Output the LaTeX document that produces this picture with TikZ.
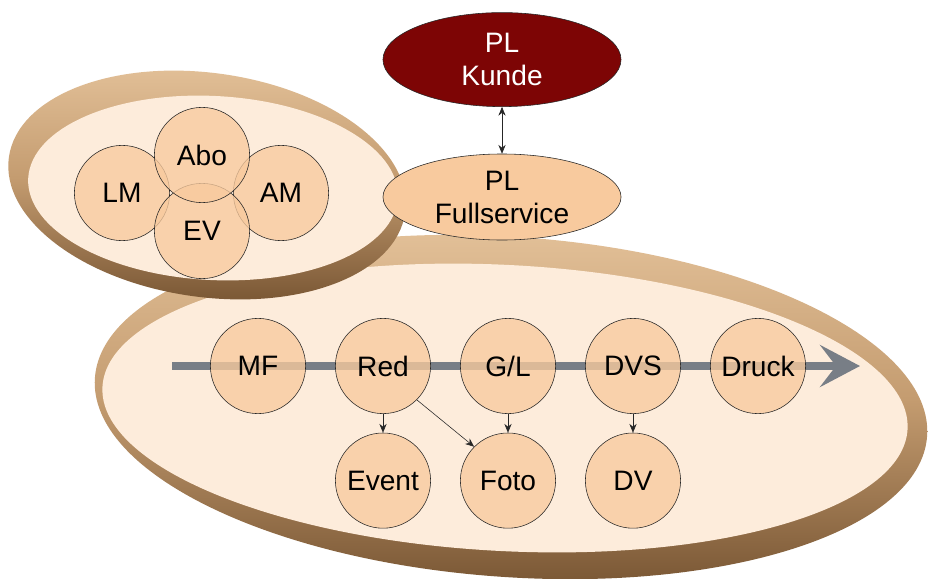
\documentclass[tikz,border=0pt]{standalone}
\usepackage{fontspec}
\setmainfont{Liberation Sans}
\usetikzlibrary{positioning,shapes.geometric,arrows.meta}
\definecolor{ringdark}{RGB}{125,90,55}
\definecolor{ringmid}{RGB}{196,156,112}
\definecolor{ringlight}{RGB}{228,194,154}
\definecolor{cream}{RGB}{253,236,219}
\definecolor{peach}{RGB}{248,202,158}
\definecolor{kundered}{RGB}{125,5,5}
\definecolor{flowgrey}{RGB}{120,126,134}
\tikzset{
  proc/.style={circle, draw=black!85, fill=peach, fill opacity=0.78, text opacity=1,
    minimum size=2.38cm, inner sep=0pt, font=\fontsize{20}{24}\selectfont},
  pl/.style={ellipse, draw=black!85, minimum width=5.95cm, inner sep=0pt, align=center,
    font=\fontsize{20}{23.5}\selectfont},
  ring/.style={top color=ringlight, bottom color=ringdark, middle color=ringmid},
  link/.style={-{Stealth[length=2.2mm,width=1.8mm]}, black!85, thin}
}

\begin{document}
\begin{tikzpicture}[x=0.025cm, y=-0.025cm, node distance=0.73cm]
  \fill[white] (0,0) rectangle (928,579);
  \useasboundingbox (0,0) rectangle (928,579);

  % Ringe
  \shade[ring, rotate around={-4:(511,407)}] (511,407) ellipse [x radius=10.425cm, y radius=4.25cm];
  \fill[cream, rotate around={-3:(505,408)}] (505,408) ellipse [x radius=10.075cm, y radius=3.575cm];
  \shade[ring, rotate around={-8:(207,185)}] (207,185) ellipse [x radius=5cm, y radius=2.8cm];
  \fill[cream, rotate around={-3:(213,188)}] (213,188) ellipse [x radius=4.625cm, y radius=2.3cm];

  % Ablauf
  \coordinate (flowstart) at (172,366);
  \coordinate (flowend) at (860,366);
  \draw[flowgrey, line width=0.2cm, -{Stealth[length=1cm,width=1.05cm,inset=0.4cm]}] (flowstart) -- (flowend);

  \node[proc] (MF) at (258,366) {MF};
  \node[proc, right=of MF] (Red) {Red};
  \node[proc, right=of Red] (GL) {G/L};
  \node[proc, right=of GL] (DVS) {DVS};
  \node[proc, right=of DVS] (Druck) {Druck};
  \node[proc, below=0.47cm of Red] (Event) {Event};
  \node[proc, below=0.47cm of GL] (Foto) {Foto};
  \node[proc, below=0.47cm of DVS] (DV) {DV};

  \path[link]
    (Red) edge (Event)
    (Red.south east) edge (Foto.north west)
    (GL) edge (Foto)
    (DVS) edge (DV);

  % Kreise links oben
  \node[proc] (LM) at (122,193) {LM};
  \node[proc] (AM) at (281,193) {AM};
  \node[proc] (EV) at (202,231) {EV};
  \node[proc] (Abo) at (202,155) {Abo};

  % PL
  \node[pl, fill=peach, minimum height=2.15cm] (Full) at (502,197) {PL\\Fullservice};
  \node[pl, fill=kundered, text=white, minimum height=2.35cm, above=1.17cm of Full] (Kunde) {PL\\Kunde};
  \draw[{Stealth[length=2.2mm,width=1.8mm]}-{Stealth[length=2.2mm,width=1.8mm]}, black!85, thin] (Kunde) -- (Full);
\end{tikzpicture}
\end{document}
